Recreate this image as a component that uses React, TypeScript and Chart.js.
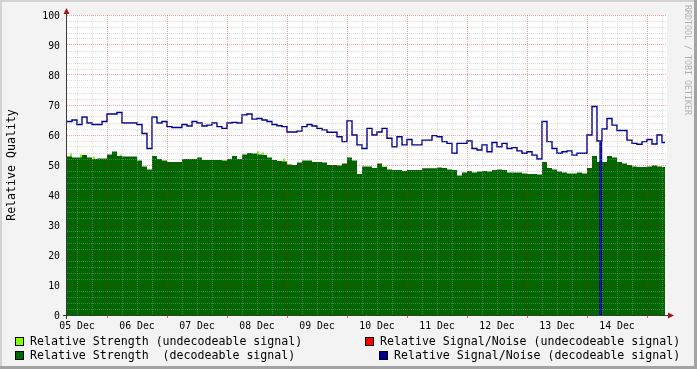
import { useEffect, useRef } from 'react';
import { Chart, registerables } from 'chart.js';

Chart.register(...registerables);

// Time axis: hours after 05 Dec 00:00
const startHour = 8;
const stepHours = 2;
const endHour = 248;
const dataEndHour = 247.2;
const dropoutStartHour = 221.2;
const dropoutEndHour = 221.8;

const dayLabels = ['05 Dec', '06 Dec', '07 Dec', '08 Dec', '09 Dec', '10 Dec', '11 Dec', '12 Dec', '13 Dec', '14 Dec'];
const yLabelValues = [0, 10, 20, 30, 40, 50, 60, 70, 80, 90, 100];

// Relative Signal/Noise (decodeable signal), one value per 2 h
const snrDecodeable = [
  64.5, 65, 63.5, 66, 64, 63.5, 63.5, 64.5, 67, 67,
  67.5, 64, 64, 64, 63.5, 60.5, 55.5, 66, 64, 64.5,
  62.8, 62.5, 62.5, 63.5, 63, 64.5, 64, 63, 63.3, 64,
  62.8, 62.2, 64, 64.2, 64, 66.7, 67, 65.3, 65.5, 65,
  64.5, 63.5, 63.1, 62.8, 61, 61, 61.3, 62.8, 63.5, 63,
  62.2, 61.7, 60.9, 60.9, 59.4, 57.8, 64.7, 60, 56.7, 55.5,
  62.2, 60, 61, 62.2, 58.9, 56.1, 59.4, 56.7, 58.5, 56.7,
  56.7, 58.3, 58.3, 59.8, 59.4, 57.8, 57.2, 53.9, 57.2, 57.2,
  58, 55.5, 55, 56.7, 54.4, 57.5, 56.1, 57.2, 55.5, 55.8,
  54.7, 53.9, 54.4, 53.3, 52, 64.5, 57.8, 55.5, 53.9, 54.4,
  54.7, 53.3, 53.9, 53.9, 60, 69.5, 58, 62, 65.5, 63.3,
  61.5, 61.5, 58.3, 57.2, 56.9, 57.8, 58.5, 57, 60, 57.5,
];

// Relative Strength (decodeable signal), one value per 2 h
const strengthDecodeable = [
  52.8, 52.5, 52.5, 53.3, 52.5, 52, 52.2, 52.2, 53.5, 54.5,
  53, 52.8, 52.8, 52.8, 51.5, 49.5, 48.5, 53, 52, 51.5,
  51, 51, 51, 52, 52, 52, 52.5, 51.7, 51.7, 51.7,
  51.7, 51.5, 52, 53, 52, 53.5, 54, 53.8, 53.5, 53.3,
  52.5, 51.7, 51.3, 51.2, 50.2, 50, 50.8, 51.5, 51.5, 51,
  51, 50.8, 50, 50, 49.8, 50.5, 52.5, 51.5, 47, 49.5,
  49.5, 49, 50.5, 49.4, 48.5, 48.3, 48.3, 48, 48.3, 48.3,
  48.3, 48.9, 48.9, 48.9, 49.2, 49, 48.5, 48.3, 46.5, 47.5,
  48, 47.5, 47.8, 48, 47.8, 48.3, 48.5, 48.3, 47.5, 47.5,
  47.5, 47.2, 47, 47, 46.8, 51, 49, 48.5, 47.8, 47.5,
  47.2, 47.2, 47.5, 47.2, 49, 53, 51, 51, 53, 52.5,
  51, 50.5, 50, 49.5, 49.3, 49.3, 49.5, 49.8, 49.5, 49.3,
];

// Relative Strength (undecodeable signal): short samples visible above the decodeable area
const undecodeableStrengthHours = [9.2, 13.2, 18.4, 29.2, 84, 86, 94.4];
const undecodeableStrengthValues = [53.8, 53.5, 52.8, 53.5, 54.6, 54.2, 52.2];
const undecodeableSampleHours = 0.8;

const COLORS = {
  back: '#F3F3F3',
  canvas: '#FFFFFF',
  shadeA: '#D2D2D2',
  shadeB: '#A3A3A3',
  minorGrid: 'rgba(170,170,170,0.4)',
  majorGrid: 'rgba(240,0,0,0.36)',
  axis: '#3A3A3A',
  arrow: '#A01818',
  font: '#000000',
  watermark: '#B0B0B0',
  lime: '#80FF00',
  red: '#FF0000',
  green: '#006600',
  blue: '#000090',
};

const MONO = '"DejaVu Sans Mono"';

function buildSeries(values: number[]) {
  const pts: { x: number; y: number }[] = [];
  values.forEach((v, i) => {
    const t = startHour + i * stepHours;
    pts.push({ x: t, y: v });
    if (dropoutStartHour >= t && dropoutStartHour < t + stepHours) {
      pts.push({ x: dropoutStartHour, y: 0 });
      pts.push({ x: dropoutEndHour, y: v });
    }
  });
  pts.push({ x: dataEndHour, y: values[values.length - 1] });
  return pts;
}

function buildSparse(hours: number[], values: number[]) {
  const pts: { x: number; y: number | null }[] = [];
  hours.forEach((h, i) => {
    pts.push({ x: h, y: values[i] });
    pts.push({ x: h + undecodeableSampleHours, y: values[i] });
    pts.push({ x: h + undecodeableSampleHours + 0.01, y: null });
  });
  return pts;
}

const rrdPlugin = {
  id: 'rrdDecor',
  beforeDraw(chart: any) {
    const { ctx, width, height, chartArea } = chart;
    ctx.save();
    ctx.fillStyle = COLORS.back;
    ctx.fillRect(0, 0, width, height);
    ctx.fillStyle = COLORS.shadeA;
    ctx.fillRect(0, 0, width, 2);
    ctx.fillRect(0, 0, 2, height);
    ctx.fillStyle = COLORS.shadeB;
    ctx.fillRect(width - 3, 0, 3, height);
    ctx.fillRect(0, height - 3, width, 3);
    ctx.fillStyle = COLORS.canvas;
    ctx.fillRect(chartArea.left, chartArea.top, chartArea.right - chartArea.left, chartArea.bottom - chartArea.top);
    ctx.restore();
  },
  afterDraw(chart: any) {
    const { ctx, chartArea } = chart;
    const xs = chart.scales.x;
    const ys = chart.scales.y;
    const left = chartArea.left;
    const right = chartArea.right;
    const bottom = chartArea.bottom;
    const top = chartArea.top;
    ctx.save();

    // major ticks below x axis
    ctx.strokeStyle = 'rgba(240,0,0,0.6)';
    ctx.lineWidth = 1;
    for (let h = 24; h < endHour; h += 24) {
      const x = Math.round(xs.getPixelForValue(h)) + 0.5;
      ctx.beginPath();
      ctx.moveTo(x, bottom);
      ctx.lineTo(x, bottom + 3);
      ctx.stroke();
    }

    // axes
    ctx.strokeStyle = COLORS.axis;
    ctx.beginPath();
    ctx.moveTo(left - 4, bottom + 0.5);
    ctx.lineTo(right + 3, bottom + 0.5);
    ctx.moveTo(left - 0.5, bottom + 4);
    ctx.lineTo(left - 0.5, top - 3);
    ctx.stroke();

    // arrows
    ctx.fillStyle = COLORS.arrow;
    ctx.beginPath();
    ctx.moveTo(right + 1, bottom - 2.5);
    ctx.lineTo(right + 7, bottom + 0.5);
    ctx.lineTo(right + 1, bottom + 3.5);
    ctx.closePath();
    ctx.fill();
    ctx.beginPath();
    ctx.moveTo(left - 3.5, top - 1);
    ctx.lineTo(left - 0.5, top - 7);
    ctx.lineTo(left + 2.5, top - 1);
    ctx.closePath();
    ctx.fill();

    // y labels
    ctx.fillStyle = COLORS.font;
    ctx.font = `9.8px ${MONO}`;
    ctx.textAlign = 'right';
    ctx.textBaseline = 'alphabetic';
    yLabelValues.forEach((v) => {
      const y = ys.getPixelForValue(v);
      ctx.fillText(String(v), 60, y + 3.6);
    });

    // x labels at noon of each day
    ctx.textAlign = 'center';
    dayLabels.forEach((lab, k) => {
      const x = xs.getPixelForValue(12 + 24 * k);
      ctx.fillText(lab, x, 329);
    });

    // y title
    ctx.font = `11.6px ${MONO}`;
    ctx.save();
    ctx.translate(12, (top + bottom) / 2);
    ctx.rotate(-Math.PI / 2);
    ctx.textAlign = 'center';
    ctx.textBaseline = 'middle';
    ctx.fillText('Relative Quality', 0, 0);
    ctx.restore();

    // watermark
    ctx.save();
    ctx.fillStyle = COLORS.watermark;
    ctx.font = `8.3px ${MONO}`;
    ctx.translate(687.5, 5);
    ctx.rotate(Math.PI / 2);
    ctx.textAlign = 'left';
    ctx.textBaseline = 'middle';
    ctx.fillText('RRDTOOL / TOBI OETIKER', 0, 0);
    ctx.restore();

    // legend
    const items = [
      { color: COLORS.lime, bx: 15, by: 337, tx: 30, ty: 345, text: 'Relative Strength (undecodeable signal)' },
      { color: COLORS.red, bx: 365, by: 337, tx: 380, ty: 345, text: 'Relative Signal/Noise (undecodeable signal)' },
      { color: COLORS.green, bx: 15, by: 351, tx: 30, ty: 359, text: 'Relative Strength  (decodeable signal)' },
      { color: COLORS.blue, bx: 379, by: 351, tx: 394, ty: 359, text: 'Relative Signal/Noise (decodeable signal)' },
    ];
    ctx.font = `11.6px ${MONO}`;
    ctx.textAlign = 'left';
    ctx.textBaseline = 'alphabetic';
    items.forEach((it) => {
      ctx.fillStyle = it.color;
      ctx.fillRect(it.bx, it.by, 9, 9);
      ctx.strokeStyle = '#000000';
      ctx.lineWidth = 1;
      ctx.strokeRect(it.bx + 0.5, it.by + 0.5, 8, 8);
      ctx.fillStyle = COLORS.font;
      ctx.fillText(it.text, it.tx, it.ty);
    });

    ctx.restore();
  },
};

export default function App() {
  const canvasRef = useRef<HTMLCanvasElement | null>(null);

  useEffect(() => {
    document.body.style.margin = '0';
    const canvas = canvasRef.current;
    if (!canvas) return;

    const xTicks: number[] = [];
    for (let h = Math.ceil(startHour / 6) * 6; h < endHour; h += 6) xTicks.push(h);
    const yTicks: number[] = [];
    for (let v = 0; v <= 100; v += 2) yTicks.push(v);

    const chart = new Chart(canvas, {
      type: 'line',
      data: {
        datasets: [
          {
            label: 'Relative Signal/Noise (decodeable signal)',
            data: buildSeries(snrDecodeable),
            borderColor: COLORS.blue,
            borderWidth: 1.4,
            stepped: true,
            pointRadius: 0,
            fill: false,
          },
          {
            label: 'Relative Strength  (decodeable signal)',
            data: buildSeries(strengthDecodeable),
            borderColor: 'rgba(0,0,0,0)',
            borderWidth: 0,
            backgroundColor: COLORS.green,
            stepped: true,
            pointRadius: 0,
            fill: 'origin',
          },
          {
            label: 'Relative Strength (undecodeable signal)',
            data: buildSparse(undecodeableStrengthHours, undecodeableStrengthValues),
            borderColor: 'rgba(0,0,0,0)',
            borderWidth: 0,
            backgroundColor: COLORS.lime,
            stepped: true,
            pointRadius: 0,
            fill: 'origin',
            spanGaps: false,
          },
        ] as any,
      },
      options: {
        animation: false,
        responsive: false,
        events: [],
        layout: { padding: { left: 67, right: 30, top: 15, bottom: 54 } },
        plugins: { legend: { display: false }, title: { display: false }, tooltip: { enabled: false } },
        scales: {
          x: {
            type: 'linear',
            min: startHour,
            max: endHour,
            afterBuildTicks: (scale: any) => {
              scale.ticks = xTicks.map((v) => ({ value: v }));
            },
            ticks: { display: false, autoSkip: false },
            grid: {
              z: 1,
              drawTicks: false,
              lineWidth: 1,
              color: (c: any) => (c.tick && c.tick.value % 24 === 0 ? COLORS.majorGrid : COLORS.minorGrid),
            },
            border: { display: false, dash: [1, 1] },
          },
          y: {
            type: 'linear',
            min: 0,
            max: 100,
            afterBuildTicks: (scale: any) => {
              scale.ticks = yTicks.map((v) => ({ value: v }));
            },
            ticks: { display: false, autoSkip: false },
            grid: {
              z: 1,
              drawTicks: false,
              lineWidth: 1,
              color: (c: any) => (c.tick && c.tick.value % 10 === 0 ? COLORS.majorGrid : COLORS.minorGrid),
            },
            border: { display: false, dash: [1, 1] },
          },
        },
      },
      plugins: [rrdPlugin],
    });

    return () => chart.destroy();
  }, []);

  return (
    <div style={{ width: 697, height: 369 }}>
      <canvas ref={canvasRef} width={697} height={369} style={{ display: 'block' }} />
    </div>
  );
}
